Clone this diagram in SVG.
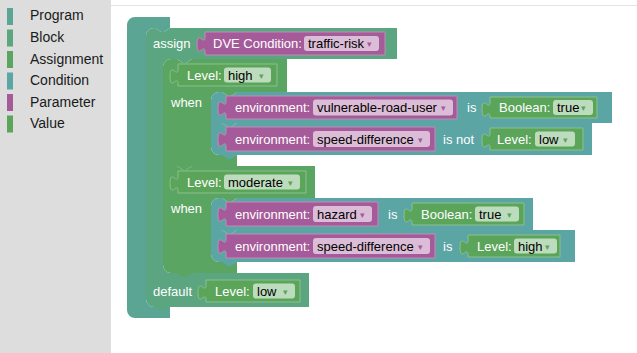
<svg xmlns="http://www.w3.org/2000/svg" width="637" height="353" viewBox="0 0 637 353">
<style>
.prog{fill:#5ba594}
.blk{fill:#5ba580}
.case{fill:#5ba562}
.cond{fill:#5ba5a5}
.par{fill:#a55b99;stroke:#c08cb8;stroke-width:1}
.val{fill:#5ba55b;stroke:#8cc08c;stroke-width:1}
.lbl{font-family:"Liberation Sans",Arial,sans-serif;font-size:13px;fill:#ffffff}
.ft{font-family:"Liberation Sans",Arial,sans-serif;font-size:13px;fill:#000000}
.fp{fill:#dcbdd7}
.fv{fill:#bddbbd}
.ap{font-family:"DejaVu Sans",sans-serif;font-size:9px;fill:#a55b99}
.av{font-family:"DejaVu Sans",sans-serif;font-size:9px;fill:#5ba55b}
.leg{font-family:"Liberation Sans",Arial,sans-serif;font-size:14px;fill:#1a1a1a}
</style>
<rect x="0" y="0" width="637" height="353" fill="#ffffff"/>
<rect x="0" y="0" width="111" height="353" fill="#dddddd"/>
<line x1="111" y1="5.5" x2="637" y2="5.5" stroke="#e4e4e4" stroke-width="1"/>
<g id="legend">
<rect x="7" y="8" width="6" height="17" fill="#5ba594"/><text class="leg" x="30" y="20">Program</text>
<rect x="7" y="29.5" width="6" height="17" fill="#5ba580"/><text class="leg" x="30" y="42">Block</text>
<rect x="7" y="51" width="6" height="17" fill="#5ba562"/><text class="leg" x="30" y="63.5">Assignment</text>
<rect x="7" y="72.5" width="6" height="17" fill="#5ba5a5"/><text class="leg" x="30" y="85">Condition</text>
<rect x="7" y="94" width="6" height="17" fill="#a55b99"/><text class="leg" x="30" y="106.5">Parameter</text>
<rect x="7" y="115.5" width="6" height="17" fill="#5ba55b"/><text class="leg" x="30" y="128">Value</text>
</g>
<g id="program">
<path class="prog" d="M127,25 A8,8 0 0 1 135,17 H170 V28 l-6,4 h-3 l-6,-4 H154 A8,8 0 0 0 146,36 V299 A8,8 0 0 0 154,307 H170 V318 H135 A8,8 0 0 1 127,310 Z"/>
</g>
<g id="assign">
<path class="blk" d="M146,36 A8,8 0 0 1 154,28 H155 l6,4 h3 l6,-4 H397 V59 H192 l-6,4 h-3 l-6,-4 H171 A8,8 0 0 0 163,67 V265 A8,8 0 0 0 171,273 H309 V307 H170 l-6,4 h-3 l-6,-4 H154 A8,8 0 0 1 146,299 Z"/>
<text class="lbl" x="153" y="48">assign</text>
<text class="lbl" x="153" y="296">default</text>
</g>
<g id="dve-condition">
<path class="par" d="M205,32 H385 V55 H205 V52 c0,-10 -8,8 -8,-7.5 s8,2.5 8,-7.5 Z"/>
<text class="lbl" x="213" y="48">DVE Condition:</text>
<rect class="fp" x="304" y="36" width="75" height="15" rx="3"/>
<text class="ft" x="308" y="48">traffic-risk</text>
<text class="ap" x="367" y="47">▾</text>
</g>
<g id="case-high">
<path class="case" d="M163,67 A8,8 0 0 1 171,59 H177 l6,4 h3 l6,-4 H287 V92 H237 l-6,4 h-3 l-6,-4 H219 A8,8 0 0 0 211,100 V147 A8,8 0 0 0 219,155 H237 V166 H192 l-6,4 h-3 l-6,-4 H163 Z"/>
<text class="lbl" x="171" y="107">when</text>
</g>
<g id="level-high">
<path class="val" d="M178,64 H277 V86 H178 V84 c0,-10 -8,8 -8,-7.5 s8,2.5 8,-7.5 Z"/>
<text class="lbl" x="187" y="79.5">Level:</text>
<rect class="fv" x="224" y="67.5" width="47" height="15" rx="3"/>
<text class="ft" x="228" y="79.5">high</text>
<text class="av" x="259" y="78.5">▾</text>
</g>
<g id="cond-1">
<path class="cond" d="M211,100 A8,8 0 0 1 219,92 H222 l6,4 h3 l6,-4 H612 V123 H237 l-6,4 h-3 l-6,-4 H211 Z"/>
<text class="lbl" x="467" y="112">is</text>
</g>
<g id="env-vru">
<path class="par" d="M226,96 H457 V119 H226 V116 c0,-10 -8,8 -8,-7.5 s8,2.5 8,-7.5 Z"/>
<text class="lbl" x="235" y="112">environment:</text>
<rect class="fp" x="313" y="99.5" width="140" height="16" rx="3"/>
<text class="ft" x="317" y="112">vulnerable-road-user</text>
<text class="ap" x="441" y="111">▾</text>
</g>
<g id="bool-true-1">
<path class="val" d="M490,97 H597 V118 H490 V117 c0,-10 -8,8 -8,-7.5 s8,2.5 8,-7.5 Z"/>
<text class="lbl" x="499" y="112">Boolean:</text>
<rect class="fv" x="553" y="100" width="40" height="15" rx="3"/>
<text class="ft" x="557" y="112">true</text>
<text class="av" x="581" y="111">▾</text>
</g>
<g id="cond-2">
<path class="cond" d="M211,123 H222 l6,4 h3 l6,-4 H592 V155 H237 l-6,4 h-3 l-6,-4 H219 A8,8 0 0 1 211,147 Z"/>
<text class="lbl" x="443" y="143.5">is not</text>
</g>
<g id="env-sd-1">
<path class="par" d="M226,127 H435 V151 H226 V147 c0,-10 -8,8 -8,-7.5 s8,2.5 8,-7.5 Z"/>
<text class="lbl" x="235" y="143.5">environment:</text>
<rect class="fp" x="313" y="131" width="117" height="16" rx="3"/>
<text class="ft" x="317" y="143.5">speed-difference</text>
<text class="ap" x="418" y="142.5">▾</text>
</g>
<g id="level-low-1">
<path class="val" d="M490,128 H583 V150 H490 V148 c0,-10 -8,8 -8,-7.5 s8,2.5 8,-7.5 Z"/>
<text class="lbl" x="497" y="143.5">Level:</text>
<rect class="fv" x="535" y="131.5" width="40" height="15" rx="3"/>
<text class="ft" x="539" y="143.5">low</text>
<text class="av" x="563" y="142.5">▾</text>
</g>
<g id="case-moderate">
<path class="case" d="M163,166 H177 l6,4 h3 l6,-4 H315 V198 H237 l-6,4 h-3 l-6,-4 H219 A8,8 0 0 0 211,206 V254 A8,8 0 0 0 219,262 H237 V273 H192 l-6,4 h-3 l-6,-4 H171 A8,8 0 0 1 163,265 Z"/>
<text class="lbl" x="171" y="213">when</text>
</g>
<g id="level-moderate">
<path class="val" d="M178,171 H306 V193 H178 V191 c0,-10 -8,8 -8,-7.5 s8,2.5 8,-7.5 Z"/>
<text class="lbl" x="187" y="186.5">Level:</text>
<rect class="fv" x="224" y="174.5" width="76" height="15" rx="3"/>
<text class="ft" x="228" y="186.5">moderate</text>
<text class="av" x="288" y="185.5">▾</text>
</g>
<g id="cond-3">
<path class="cond" d="M211,206 A8,8 0 0 1 219,198 H222 l6,4 h3 l6,-4 H533 V230 H237 l-6,4 h-3 l-6,-4 H211 Z"/>
<text class="lbl" x="388" y="218.5">is</text>
</g>
<g id="env-hazard">
<path class="par" d="M226,202 H378 V226 H226 V222 c0,-10 -8,8 -8,-7.5 s8,2.5 8,-7.5 Z"/>
<text class="lbl" x="235" y="218.5">environment:</text>
<rect class="fp" x="313" y="206" width="59" height="16" rx="3"/>
<text class="ft" x="317" y="218.5">hazard</text>
<text class="ap" x="360" y="217.5">▾</text>
</g>
<g id="bool-true-2">
<path class="val" d="M412,203 H524 V225 H412 V223 c0,-10 -8,8 -8,-7.5 s8,2.5 8,-7.5 Z"/>
<text class="lbl" x="421" y="218.5">Boolean:</text>
<rect class="fv" x="475" y="206.5" width="44" height="15" rx="3"/>
<text class="ft" x="479" y="218.5">true</text>
<text class="av" x="507" y="217.5">▾</text>
</g>
<g id="cond-4">
<path class="cond" d="M211,230 H222 l6,4 h3 l6,-4 H575 V262 H237 l-6,4 h-3 l-6,-4 H219 A8,8 0 0 1 211,254 Z"/>
<text class="lbl" x="443" y="250.5">is</text>
</g>
<g id="env-sd-2">
<path class="par" d="M226,234 H435 V258 H226 V254 c0,-10 -8,8 -8,-7.5 s8,2.5 8,-7.5 Z"/>
<text class="lbl" x="235" y="250.5">environment:</text>
<rect class="fp" x="313" y="238" width="117" height="16" rx="3"/>
<text class="ft" x="317" y="250.5">speed-difference</text>
<text class="ap" x="418" y="249.5">▾</text>
</g>
<g id="level-high-2">
<path class="val" d="M468,235 H560 V257 H468 V255 c0,-10 -8,8 -8,-7.5 s8,2.5 8,-7.5 Z"/>
<text class="lbl" x="477" y="250.5">Level:</text>
<rect class="fv" x="514" y="238.5" width="43" height="15" rx="3"/>
<text class="ft" x="518" y="250.5">high</text>
<text class="av" x="545" y="249.5">▾</text>
</g>
<g id="level-low-default">
<path class="val" d="M206,280 H300 V302 H206 V300 c0,-10 -8,8 -8,-7.5 s8,2.5 8,-7.5 Z"/>
<text class="lbl" x="215" y="295.5">Level:</text>
<rect class="fv" x="253" y="283.5" width="42" height="15" rx="3"/>
<text class="ft" x="257" y="295.5">low</text>
<text class="av" x="283" y="294.5">▾</text>
</g>
<g id="connectors"></g>
</svg>
